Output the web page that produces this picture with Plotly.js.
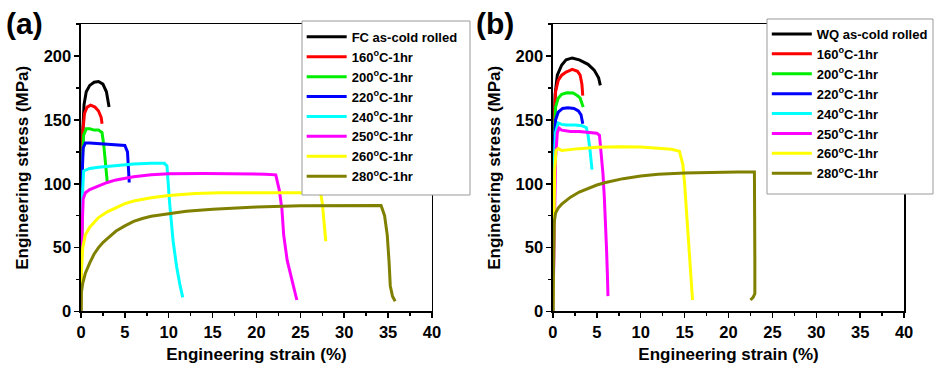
<!DOCTYPE html>
<html>
<head>
<meta charset="utf-8">
<script src="https://cdn.plot.ly/plotly-3.0.1.min.js"></script>
<style>html,body{margin:0;padding:0;background:#fff;}#chart{width:934px;height:365px;}</style>
</head>
<body>
<div id="chart"></div>
<script>
// ---------- Legend names ----------
const namesA = ["FC as-cold rolled","160<sup>o</sup>C-1hr","200<sup>o</sup>C-1hr","220<sup>o</sup>C-1hr","240<sup>o</sup>C-1hr","250<sup>o</sup>C-1hr","260<sup>o</sup>C-1hr","280<sup>o</sup>C-1hr"];
const namesB = ["WQ as-cold rolled","160<sup>o</sup>C-1hr","200<sup>o</sup>C-1hr","220<sup>o</sup>C-1hr","240<sup>o</sup>C-1hr","250<sup>o</sup>C-1hr","260<sup>o</sup>C-1hr","280<sup>o</sup>C-1hr"];
const colors = ["#000000","#ff0000","#00ee00","#0000ff","#00ffff","#ff00ff","#ffff00","#808000"];

// ---------- Panel (a): FC ----------
const a0x = [0,0.1,0.2,0.35,0.6,1.0,1.5,2.0,2.5,2.9,3.1,3.2];
const a0y = [0,100,140,162,172,177,179.5,180,178,172,165,160];
const a1x = [0,0.1,0.2,0.4,0.7,1.1,1.6,2.0,2.3,2.4];
const a1y = [0,110,140,155,160,161.5,160,157,152,147];
const a2x = [0,0.1,0.3,0.6,1.0,1.5,2.0,2.4,2.6,2.8,3.0];
const a2y = [0,110,138,143,143,142,142,140,130,112,101];
const a3x = [0,0.1,0.25,0.5,1,2,3,4,5,5.3,5.45,5.5];
const a3y = [0,100,128,132,132,131.5,131.5,131,130,125,110,101];
const a4x = [0,0.1,0.3,1,2,4,6,8,9.5,9.8,10.1,10.5,10.9,11.3,11.6];
const a4y = [0,80,110,112,113,114.5,115.5,116,116,114,85,55,35,20,11];
const a5x = [0,0.1,0.25,0.5,1,2,3,4,5,6,8,10,14,18,21,22.2,22.6,22.9,23.1,23.5,24,24.3,24.6];
const a5y = [0,60,88,93,95.5,98.5,101,103,104.5,105.5,107,107.8,108,108,107.5,107,95,80,60,40,25,17,9];
const a6x = [0,0.05,0.2,0.5,1,1.5,2,3,4,5,6,7,8,10,13,16,20,24,27.3,27.5,27.7,27.9];
const a6y = [0,30,50,60,66,70,73.5,78,81.5,84.5,86.5,88,89,90.8,92.3,93,93.2,93.2,93,85,70,55];
const a7x = [0,0.05,0.2,0.5,1,1.5,2,2.5,3,4,5,6,7,8,10,12,15,20,25,30,34.2,34.6,34.9,35.1,35.25,35.5,35.8];
const a7y = [0,15,22,30,38,45,50,54,57,63,67,70.5,72.8,74.5,76.5,78.5,80,81.8,82.8,83.2,83,75,60,40,20,12,8];

// ---------- Panel (b): WQ ----------
const b0x = [0,0.1,0.25,0.5,1,1.5,2.2,3,4,4.7,5.2,5.4];
const b0y = [0,130,170,185,193,197,198.5,197,193.5,189,183,177];
const b1x = [0,0.1,0.3,0.6,1,1.5,2.2,2.8,3.1,3.3,3.4];
const b1y = [0,140,172,181,185,187.5,189.5,188,185,178,169];
const b2x = [0,0.1,0.3,0.6,1,1.6,2.3,2.8,3.1,3.3,3.45];
const b2y = [0,130,160,167,170,171.2,171,169,167,163,160];
const b3x = [0,0.1,0.3,0.6,1.1,1.7,2.4,2.9,3.2,3.35,3.4];
const b3y = [0,125,150,156,159,159.5,159,157,154,150,147];
const b4x = [0,0.1,0.3,0.6,1,1.5,2.5,3.3,3.8,4.0,4.2,4.35,4.45];
const b4y = [0,110,140,147.5,146.5,146,146,145.5,144,138,128,118,111];
const b5x = [0,0.15,0.3,0.5,0.7,1,2,3,4,5,5.3,5.5,5.7,5.85,6,6.1,6.2,6.27];
const b5y = [0,60,120,140,143.5,142,141,141,140.5,139.5,138,125,108,90,70,50,30,12];
const b6x = [0,0.1,0.2,0.35,0.6,1,1.5,3,5,7.5,10,12,13.5,14.4,14.8,15.0,15.2,15.4,15.6,15.8,15.9];
const b6y = [0,60,110,126,127.5,126,126.5,127.5,128.5,129,128.7,128,127,125.5,115,100,80,60,35,15,9];
const b7x = [0,0.05,0.15,0.3,0.6,1,2,3,4,5,6,8,10,12,15,18,21,22.95,23.0,23.0,23.0,22.8,22.5];
const b7y = [0,40,70,77,81,84,89.5,93.5,96.5,99,101,104,106,107.5,108.5,109,109.3,109.2,80,40,14,11,9];

// ---------- Axis ticks ----------
const xTicks = [0,5,10,15,20,25,30,35,40];
const yTicks = [0,50,100,150,200];

const seriesA = [[a0x,a0y],[a1x,a1y],[a2x,a2y],[a3x,a3y],[a4x,a4y],[a5x,a5y],[a6x,a6y],[a7x,a7y]];
const seriesB = [[b0x,b0y],[b1x,b1y],[b2x,b2y],[b3x,b3y],[b4x,b4y],[b5x,b5y],[b6x,b6y],[b7x,b7y]];

const traces = [];
seriesA.forEach((s,i)=>traces.push({x:s[0],y:s[1],type:'scatter',mode:'lines',name:namesA[i],
  line:{color:colors[i],width:3},xaxis:'x',yaxis:'y',legend:'legend'}));
seriesB.forEach((s,i)=>traces.push({x:s[0],y:s[1],type:'scatter',mode:'lines',name:namesB[i],
  line:{color:colors[i],width:3},xaxis:'x2',yaxis:'y2',legend:'legend2'}));

const FONT = 'Arial, "Liberation Sans", sans-serif';
function xax(dom){return {domain:dom,range:[0,40],tickvals:xTicks,ticktext:xTicks.map(String),
  ticks:'outside',ticklen:5,tickwidth:1.5,tickcolor:'#000',showline:true,linecolor:'#000',linewidth:1.5,mirror:true,
  showgrid:false,zeroline:false,tickfont:{family:FONT,size:16.5,weight:'bold',color:'#000'},
  minor:{dtick:2.5,ticks:'outside',ticklen:3,tickwidth:1.5,tickcolor:'#000'},
  title:{text:'Engineering strain (%)',font:{family:FONT,size:17,weight:'bold',color:'#000'},standoff:8}};}
function yax(dom,anchor){return {domain:dom,range:[0,225],tickvals:yTicks,ticktext:yTicks.map(String),anchor:anchor,
  ticks:'outside',ticklen:5,tickwidth:1.5,tickcolor:'#000',showline:true,linecolor:'#000',linewidth:1.5,mirror:true,
  showgrid:false,zeroline:false,tickfont:{family:FONT,size:16.5,weight:'bold',color:'#000'},
  minor:{dtick:25,ticks:'outside',ticklen:3,tickwidth:1.5,tickcolor:'#000'},
  title:{text:'Engineering stress (MPa)',font:{family:FONT,size:17,weight:'bold',color:'#000'},standoff:10}};}

const legendStyle = (x,y)=>({x:x,y:y,xanchor:'left',yanchor:'top',bgcolor:'rgba(0,0,0,0)',borderwidth:0,
  font:{family:FONT,size:13,weight:'bold',color:'#000'},tracegroupgap:0,itemwidth:40});

const H = 365, W = 934;
const layout = {
  width:W,height:H,margin:{l:0,r:0,t:0,b:0},paper_bgcolor:'#fff',plot_bgcolor:'#fff',showlegend:true,
  xaxis:Object.assign(xax([0.0867,0.4625]),{anchor:'y'}),
  yaxis:yax([0.1466,0.934],'x'),
  xaxis2:Object.assign(xax([0.592,0.968]),{anchor:'y2'}),
  yaxis2:yax([0.1466,0.934],'x2'),
  legend:legendStyle(0.323,0.94),
  legend2:legendStyle(0.821,0.948),
  shapes:[
    {type:'rect',xref:'paper',yref:'paper',x0:302/W,x1:470/W,y0:(H-195)/H,y1:(H-21)/H,
     line:{color:'#999999',width:1},fillcolor:'#ffffff',layer:'above'},
    {type:'rect',xref:'paper',yref:'paper',x0:767/W,x1:933/W,y0:(H-194)/H,y1:(H-19)/H,
     line:{color:'#999999',width:1},fillcolor:'#ffffff',layer:'above'}
  ],
  annotations:[
    {text:'(a)',xref:'paper',yref:'paper',x:0.004,y:0.985,xanchor:'left',yanchor:'top',showarrow:false,
     font:{family:FONT,size:30,weight:'bold',color:'#000'}},
    {text:'(b)',xref:'paper',yref:'paper',x:0.508,y:0.985,xanchor:'left',yanchor:'top',showarrow:false,
     font:{family:FONT,size:30,weight:'bold',color:'#000'}}
  ]
};
Plotly.newPlot('chart',traces,layout,{displayModeBar:false,staticPlot:true});
</script>
</body>
</html>
